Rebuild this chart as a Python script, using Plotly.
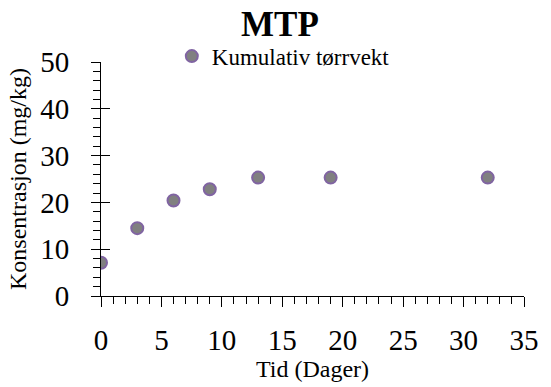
import plotly.graph_objects as go

days = [0, 3, 6, 9, 13, 19, 32]
conc = [7.1, 14.5, 20.4, 22.8, 25.3, 25.3, 25.3]
series_name = "Kumulativ tørrvekt"
title_text = "MTP"
x_title = "Tid (Dager)"
y_title = "Konsentrasjon (mg/kg)"

FONT = "Liberation Serif, Times New Roman, serif"

fig = go.Figure()
fig.add_trace(go.Scatter(
    x=days, y=conc, mode="markers", name=series_name,
    marker=dict(color="#808080", size=12, line=dict(color="#8064A2", width=2)),
))
# helper trace on overlay axis (for crossing major ticks on y axis)
fig.add_trace(go.Scatter(
    x=days, y=conc, mode="markers", yaxis="y2", showlegend=False,
    marker=dict(opacity=0), hoverinfo="skip",
))

fig.update_layout(
    width=551, height=387,
    margin=dict(l=101, r=19, t=62, b=85),
    paper_bgcolor="white", plot_bgcolor="white",
    font=dict(family=FONT, color="black"),
    title=dict(text="<b>" + title_text + "</b>", font=dict(size=35, family=FONT),
               x=0.508, xref="container", xanchor="center",
               y=1 - 24 / 387, yref="container", yanchor="middle"),
    showlegend=True,
    legend=dict(orientation="h", x=0.431, xref="paper", xanchor="center",
                y=1.025, yref="paper", yanchor="middle",
                font=dict(size=23, family=FONT), itemwidth=30,
                bgcolor="rgba(0,0,0,0)"),
    xaxis=dict(range=[0, 35], tick0=0, dtick=5, showline=True, linecolor="black",
               linewidth=1, ticks="outside", ticklen=10, tickcolor="black",
               minor=dict(ticks="outside", ticklen=7, dtick=1, tickcolor="black"),
               showgrid=False, zeroline=False, tickfont=dict(size=29, family=FONT),
               ticklabelstandoff=8,
               title=dict(text=x_title, font=dict(size=24, family=FONT), standoff=2)),
    yaxis=dict(range=[0, 50], tick0=0, dtick=10, showline=True, linecolor="black",
               linewidth=1, ticks="outside", ticklen=9, tickcolor="black",
               minor=dict(ticks="outside", ticklen=7, dtick=2, tickcolor="black"),
               showgrid=False, zeroline=False, tickfont=dict(size=29, family=FONT),
               ticklabelstandoff=16,
               title=dict(text=y_title, font=dict(size=24, family=FONT), standoff=6)),
    yaxis2=dict(range=[0, 50], tick0=0, dtick=10, overlaying="y", side="left",
                anchor="x", showline=False, ticks="inside", ticklen=9, tickwidth=1,
                tickcolor="black", showticklabels=False, showgrid=False,
                zeroline=False),
)

fig.write_html("out.html")
